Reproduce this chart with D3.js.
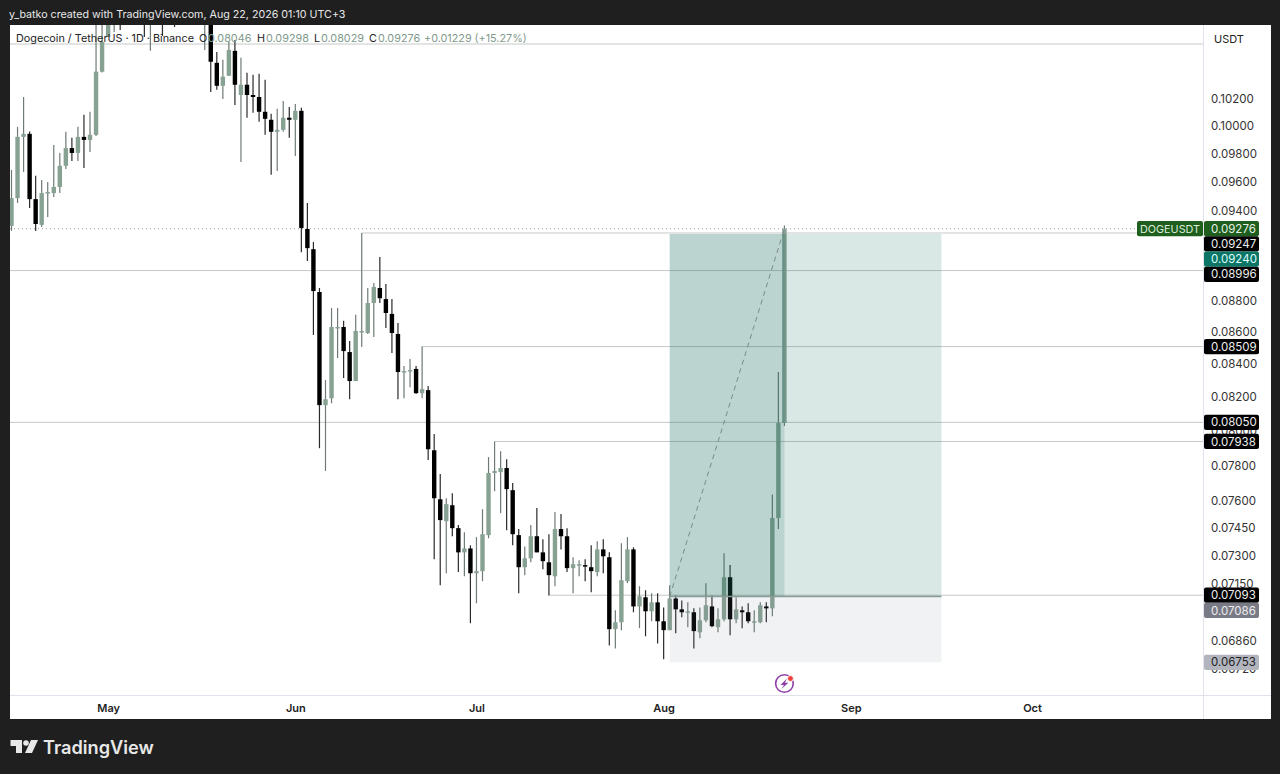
<!DOCTYPE html>
<html>
<head>
<meta charset="utf-8">
<script src="https://cdn.jsdelivr.net/npm/d3@7"></script>
<style>
  html, body { margin: 0; padding: 0; background: #1f1f1f; }
  svg { display: block; font-family: Inter, "Noto Sans", sans-serif; }
</style>
</head>
<body>
<div id="chart"></div>
<script>
// daily candles, first one is 15 Apr; those between May and mid May run off the top of the picture
const firstDay = new Date(Date.UTC(2026, 3, 15));

const opens = [
  .09295,.09486,.09921,.09943,.09479,.09302,.09521,.09521,.09564,.09713,
  .09840,.09805,.09921,.09899,.09936,.10406,.10674,.10900,.11020,.10950,
  .11100,.11000,.11150,.10950,.11050,.11180,.11000,.11100,.10980,.11080,
  .10950,.11050,.10900,.11000,.10474,.10299,.10375,.10566,.10230,.10307,
  .10230,.10215,.10105,.10046,.09958,.09972,.10061,.10046,.10112,.09274,
  .09138,.08856,.08152,.08193,.08626,.08632,.08475,.08297,.08601,.08594,
  .08785,.08882,.08810,.08715,.08588,.08352,.08358,.08371,.08224,.08242,
  .07887,.07609,.07488,.07576,.07450,.07319,.07340,.07208,.07219,.07412,
  .07757,.07762,.07785,.07660,.07412,.07240,.07287,.07406,.07319,.07266,
  .07192,.07445,.07406,.07235,.07251,.07251,.07240,.07214,.07335,.07293,
  .06919,.06954,.07166,.07335,.07035,.07082,.07010,.07056,.06959,.06914,
  .07076,.07020,.07005,.07005,.06903,.06964,.07035,.06929,.06969,.07187,
  .06969,.07015,.07005,.06954,.06954,.07035,.07025,.07505,.08046
];
const highs = [
  .09684,.09994,.10215,.09961,.09642,.09613,.09599,.09862,.09805,.09958,
  .09914,.09994,.10083,.10105,.10850,.10950,.11000,.11150,.11300,.11250,
  .11350,.11280,.11400,.11200,.11300,.11350,.11250,.11300,.11200,.11250,
  .11180,.11200,.11100,.11120,.10558,.10497,.10635,.10651,.10512,.10398,
  .10383,.10391,.10345,.10090,.10127,.10185,.10141,.10163,.10134,.09452,
  .09186,.08882,.08303,.08753,.08753,.08671,.08544,.08709,.09247,.08882,
  .08915,.09086,.08908,.08810,.08658,.08389,.08432,.08389,.08509,.08267,
  .07981,.07751,.07615,.07643,.07467,.07428,.07357,.07401,.07554,.07848,
  .07938,.07882,.07836,.07700,.07445,.07351,.07467,.07560,.07390,.07417,
  .07538,.07527,.07450,.07293,.07277,.07282,.07357,.07379,.07390,.07319,
  .07015,.07368,.07401,.07346,.07140,.07119,.07103,.07103,.07030,.07145,
  .07092,.07066,.07056,.07025,.07030,.07156,.07092,.07025,.07314,.07251,
  .07082,.07035,.07051,.07015,.07056,.07056,.07636,.08352,.09298
];
const lows = [
  .09261,.09452,.09670,.09418,.09261,.09288,.09356,.09493,.09521,.09691,
  .09748,.09748,.09698,.09812,.09928,.10400,.10674,.10713,.10729,.10800,
  .10850,.10820,.10674,.10566,.10850,.10682,.10900,.10752,.10820,.10900,
  .10800,.10850,.10573,.10253,.10269,.10200,.10375,.10156,.09741,.10061,
  .10097,.10031,.09936,.09649,.09677,.09958,.09914,.09783,.09118,.09059,
  .08582,.07899,.07768,.08163,.08438,.08316,.08187,.08297,.08506,.08588,
  .08569,.08785,.08626,.08469,.08187,.08193,.08260,.08218,.08193,.07831,
  .07282,.07145,.07208,.07406,.07214,.07192,.06949,.07051,.07166,.07395,
  .07654,.07532,.07439,.07357,.07103,.07198,.07266,.07319,.07229,.07092,
  .07140,.07335,.07214,.07103,.07192,.07166,.07108,.07192,.07208,.06837,
  .06822,.06914,.07156,.07005,.06924,.06883,.06959,.06847,.06768,.06914,
  .06898,.06980,.06929,.06822,.06873,.06954,.06929,.06903,.06959,.06888,
  .06949,.06924,.06949,.06903,.06949,.06954,.06985,.07445,.08029
];
const closes = [
  .09486,.09921,.09943,.09479,.09308,.09521,.09528,.09564,.09713,.09840,
  .09805,.09921,.09899,.09936,.10406,.10635,.10850,.11020,.10950,.11100,
  .11000,.11150,.10950,.11050,.11180,.11000,.11100,.10980,.11080,.10950,
  .11050,.10900,.11000,.10482,.10299,.10368,.10573,.10307,.10307,.10230,
  .10215,.10105,.10053,.09958,.09972,.10061,.10046,.10112,.09281,.09145,
  .08862,.08152,.08187,.08632,.08632,.08481,.08297,.08607,.08607,.08785,
  .08889,.08816,.08721,.08594,.08352,.08358,.08364,.08224,.08248,.07893,
  .07615,.07494,.07582,.07450,.07319,.07340,.07208,.07219,.07417,.07757,
  .07768,.07785,.07666,.07417,.07240,.07287,.07406,.07319,.07272,.07198,
  .07445,.07406,.07235,.07256,.07256,.07245,.07219,.07335,.07298,.06919,
  .06954,.07171,.07335,.07035,.07087,.07010,.07056,.06959,.06914,.07076,
  .07020,.07005,.07010,.06909,.06964,.07041,.06934,.06969,.07187,.06969,
  .07020,.07005,.06959,.06959,.07041,.07025,.07505,.08046,.09276
];

const priceTicks = [.102,.1,.098,.096,.094,.088,.086,.084,.082,.08,.078,.076,.0745,.073,.0715,.0686,.0672];
const monthTicks = [4,5,6,7,8,9].map(m => new Date(Date.UTC(2026, m, 1)));

// horizontal rays: start day (null = whole width) and price
const rays = [
  { from: null, price: .10619 },
  { from: null, price: .08996 },
  { from: null, price: .0805 },
  { from: new Date(Date.UTC(2026, 5, 12)), price: .09247 },
  { from: new Date(Date.UTC(2026, 5, 22)), price: .08509 },
  { from: new Date(Date.UTC(2026, 6, 4)), price: .07938 },
  { from: new Date(Date.UTC(2026, 6, 13)), price: .07093 }
];

// long position tool
const posStart = new Date(Date.UTC(2026, 7, 2));
const posNow = new Date(Date.UTC(2026, 7, 21));
const posEnd = new Date(Date.UTC(2026, 8, 16));
const entry = .07086, target = .0924, stop = .06753, lastClose = .09276;

const priceLabels = [
  { text: "0.09276", price: .09276, bg: "#1e5f1e", fg: "#e6f0e6" },
  { text: "0.09247", price: .09247, bg: "#000", fg: "#eee" },
  { text: "0.09240", price: .0924, bg: "#0b7566", fg: "#dff" },
  { text: "0.08996", price: .08996, bg: "#000", fg: "#eee" },
  { text: "0.08509", price: .08509, bg: "#000", fg: "#eee" },
  { text: "0.08050", price: .0805, bg: "#000", fg: "#eee" },
  { text: "0.07938", price: .07938, bg: "#000", fg: "#eee" },
  { text: "0.07093", price: .07093, bg: "#000", fg: "#eee" },
  { text: "0.07086", price: .07086, bg: "#787b86", fg: "#eee" },
  { text: "0.06753", price: .06753, bg: "#b2b5be", fg: "#222" }
];

const W = 1280, H = 774;
const plot = { left: 10, top: 25, right: 1203, bottom: 695, axisRight: 1271, axisBottom: 719 };

const svg = d3.select("#chart").append("svg").attr("width", W).attr("height", H);
svg.append("rect").attr("width", W).attr("height", H).attr("fill", "#1f1f1f");
svg.append("rect")
  .attr("x", plot.left).attr("y", plot.top)
  .attr("width", plot.axisRight - plot.left).attr("height", plot.axisBottom - plot.top)
  .attr("fill", "#fff");

svg.append("defs").append("clipPath").attr("id", "plot-clip").append("rect")
  .attr("x", plot.left).attr("y", plot.top)
  .attr("width", plot.right - plot.left).attr("height", plot.bottom - plot.top);

const x = d3.scaleUtc()
  .domain([firstDay, new Date(Date.UTC(2026, 9, 1))])
  .range([11.5, 1032]);
const y = d3.scaleLog()
  .domain([.102, .0672])
  .range([99, 669]);

const candles = opens.map((o, i) => ({
  date: d3.utcDay.offset(firstDay, i), o, h: highs[i], l: lows[i], c: closes[i]
}));

const g = svg.append("g").attr("clip-path", "url(#plot-clip)");

// rays
g.selectAll(".ray").data(rays).enter().append("line")
  .attr("class", "ray")
  .attr("x1", d => d.from ? x(d.from) : plot.left)
  .attr("x2", plot.right)
  .attr("y1", d => y(d.price)).attr("y2", d => y(d.price))
  .attr("stroke", "#c6c8c8").attr("stroke-width", 1);

// last price dotted
g.append("line")
  .attr("x1", plot.left).attr("x2", 1137)
  .attr("y1", y(lastClose)).attr("y2", y(lastClose))
  .attr("stroke", "#9a9a9a").attr("stroke-width", 1).attr("stroke-dasharray", "1 3");

// candles
const isUp = d => d.c >= d.o;
g.selectAll(".wick").data(candles).enter().append("line")
  .attr("class", "wick")
  .attr("x1", d => x(d.date)).attr("x2", d => x(d.date))
  .attr("y1", d => y(d.h)).attr("y2", d => y(d.l))
  .attr("stroke", d => isUp(d) ? "#6f7a74" : "#2a2a2a")
  .attr("stroke-width", 1.2);
g.selectAll(".body").data(candles).enter().append("rect")
  .attr("class", "body")
  .attr("x", d => x(d.date) - 2.2).attr("width", 4.4)
  .attr("y", d => y(Math.max(d.o, d.c)))
  .attr("height", d => Math.max(1.5, Math.abs(y(d.o) - y(d.c))))
  .attr("fill", d => isUp(d) ? "#87a193" : "#000");

// position tool, drawn over the candles so they pick up the tint
g.append("rect")
  .attr("x", x(posStart)).attr("width", x(posEnd) - x(posStart))
  .attr("y", y(target)).attr("height", y(entry) - y(target))
  .attr("fill", "rgba(30,115,100,.17)");
g.append("rect")
  .attr("x", x(posStart)).attr("width", x(posNow) - x(posStart))
  .attr("y", y(target)).attr("height", y(entry) - y(target))
  .attr("fill", "rgba(30,110,95,.16)");
g.append("rect")
  .attr("x", x(posStart)).attr("width", x(posEnd) - x(posStart))
  .attr("y", y(entry)).attr("height", y(stop) - y(entry))
  .attr("fill", "rgba(120,123,134,.1)");
g.append("line")
  .attr("x1", x(posStart)).attr("x2", x(posEnd))
  .attr("y1", y(entry)).attr("y2", y(entry))
  .attr("stroke", "#8a9a96").attr("stroke-width", 1.5);
g.append("line")
  .attr("x1", x(posStart)).attr("x2", x(posNow))
  .attr("y1", y(entry)).attr("y2", y(lastClose))
  .attr("stroke", "#7d8a87").attr("stroke-width", 1).attr("stroke-dasharray", "5 4");

// axis borders
svg.append("line").attr("x1", plot.right + .5).attr("x2", plot.right + .5)
  .attr("y1", plot.top).attr("y2", plot.axisBottom).attr("stroke", "#e0e3eb");
svg.append("line").attr("x1", plot.left).attr("x2", plot.axisRight)
  .attr("y1", plot.bottom + .5).attr("y2", plot.bottom + .5).attr("stroke", "#e0e3eb");

// price axis
const yAxis = svg.append("g")
  .attr("transform", `translate(${plot.right},0)`)
  .call(d3.axisRight(y).tickValues(priceTicks).tickFormat(d3.format(".5f")).tickSize(0).tickPadding(8));
yAxis.select(".domain").remove();
yAxis.selectAll("text").attr("font-size", 11.5).attr("fill", "#333").attr("font-family", "Inter");

// time axis
const xAxis = svg.append("g")
  .attr("transform", `translate(0,${plot.bottom})`)
  .call(d3.axisBottom(x).tickValues(monthTicks).tickFormat(d3.utcFormat("%b")).tickSize(0).tickPadding(9));
xAxis.select(".domain").remove();
xAxis.selectAll("text").attr("font-size", 11).attr("font-weight", 600).attr("fill", "#222").attr("font-family", "Inter");

svg.append("text").attr("x", 1229).attr("y", 43).attr("text-anchor", "middle")
  .attr("font-size", 11).attr("fill", "#222").text("USDT");

// axis labels get pushed down when they collide, like in the app
const labelH = 15.2;
let lastY = -1e9;
const placed = priceLabels.map(d => {
  const cy = Math.max(y(d.price), lastY + labelH);
  lastY = cy;
  return { ...d, cy };
});
const lab = svg.selectAll(".plabel").data(placed).enter().append("g")
  .attr("class", "plabel").attr("transform", d => `translate(${plot.right + 1},${d.cy})`);
lab.append("rect").attr("x", 0).attr("y", -labelH / 2).attr("width", 55).attr("height", labelH)
  .attr("rx", 2).attr("fill", d => d.bg);
lab.append("text").attr("x", 7).attr("dy", ".36em").attr("font-size", 11.5)
  .attr("fill", d => d.fg).text(d => d.text);

// symbol tag next to the last price
const tagY = y(lastClose);
svg.append("rect").attr("x", 1137).attr("y", tagY - 7.6).attr("width", 66).attr("height", 15.2)
  .attr("rx", 2).attr("fill", "#1e5f1e");
svg.append("text").attr("x", 1170).attr("y", tagY).attr("dy", ".36em").attr("text-anchor", "middle")
  .attr("font-size", 10.8).attr("fill", "#dcebdc").text("DOGEUSDT");

// legend
const legendParts = [
  { x: 16, t: "Dogecoin / TetherUS · 1D · Binance", c: "#222" },
  { x: 199, t: "O", c: "#222" }, { x: 208, t: "0.08046", c: "#7f9a8c" },
  { x: 257, t: "H", c: "#222" }, { x: 266, t: "0.09298", c: "#7f9a8c" },
  { x: 314, t: "L", c: "#222" }, { x: 321, t: "0.08029", c: "#7f9a8c" },
  { x: 369, t: "C", c: "#222" }, { x: 378, t: "0.09276", c: "#7f9a8c" },
  { x: 424, t: "+0.01229 (+15.27%)", c: "#7f9a8c" }
];
svg.selectAll(".legend").data(legendParts).enter().append("text")
  .attr("class", "legend").attr("x", d => d.x).attr("y", 42)
  .attr("font-size", 10.8).attr("fill", d => d.c).text(d => d.t);

// header and footer
svg.append("text").attr("x", 9).attr("y", 18).attr("font-size", 10.7)
  .attr("fill", "#e8e8e8").text("y_batko created with TradingView.com, Aug 22, 2026 01:10 UTC+3");

const logo = svg.append("g").attr("fill", "#e8e8e8");
logo.append("path").attr("d", "M10.5 740H22V753H16V746H10.5Z");
logo.append("circle").attr("cx", 26).attr("cy", 743).attr("r", 2.8);
logo.append("path").attr("d", "M31 740H38L32 753H25Z");
logo.append("text").attr("x", 43).attr("y", 754).attr("font-size", 18.2).attr("font-weight", 600)
  .text("TradingView");

// earnings style marker under the last candle
const icon = svg.append("g").attr("transform", `translate(${x(posNow)},683.5)`);
icon.append("circle").attr("r", 8.8).attr("fill", "#fff").attr("stroke", "#8e3fa8").attr("stroke-width", 1.6);
icon.append("path").attr("d", "M2.5 -5L-4 1.5H-.5L-3 5.5L4 -.8H.5Z").attr("fill", "#8e3fa8");
icon.append("circle").attr("cx", 6).attr("cy", -5).attr("r", 3).attr("fill", "#f0403c").attr("stroke", "#fff");
</script>
</body>
</html>
